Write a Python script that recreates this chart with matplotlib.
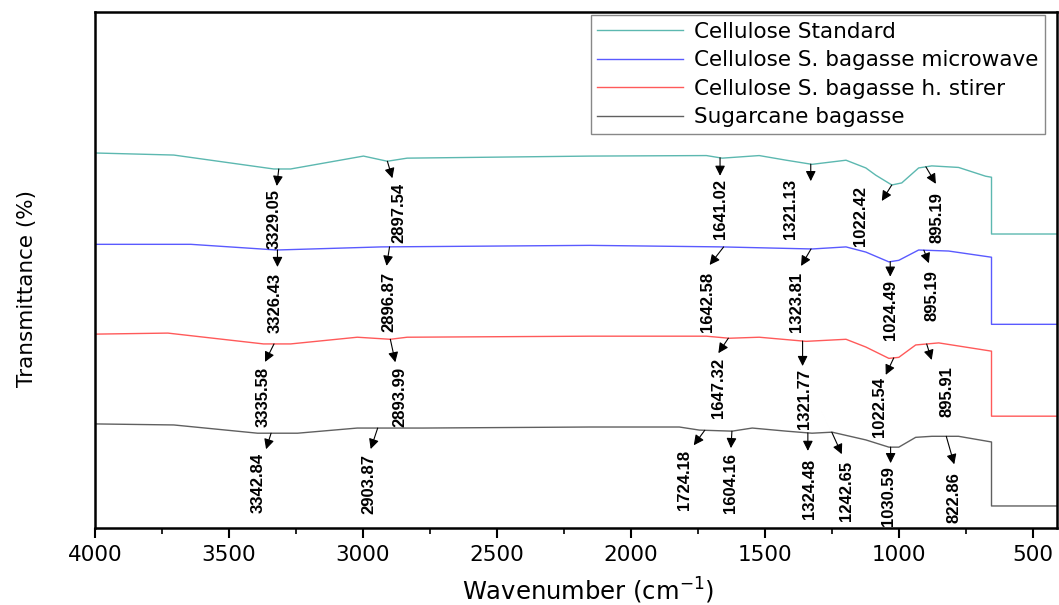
import numpy as np
import matplotlib.pyplot as plt

# FTIR spectra (wavenumber in cm-1, transmittance offset per sample)
wn_std = [4000, 3706, 3333, 3270, 2998, 2909, 2835, 2154, 1718, 1659, 1521, 1420, 1324,
          1197, 1123, 1086, 1026, 989, 926, 877, 777, 676, 654, 654, 400]
tr_std = [72.7, 72.3, 69.6, 69.6, 72.1, 71.1, 71.7, 72.1, 72.2, 71.7, 72.2, 71.3, 70.5,
          71.3, 69.8, 68.4, 66.5, 66.9, 69.8, 70.2, 69.9, 68.2, 68.0, 57.0, 57.0]

wn_mw = [4000, 3642, 3322, 2932, 2154, 1659, 1324, 1197, 1123, 1037, 1000, 926, 814,
         654, 654, 400]
tr_mw = [55.0, 55.0, 53.9, 54.5, 54.8, 54.5, 54.1, 54.5, 53.5, 51.6, 51.9, 53.9, 53.7,
         52.5, 39.5, 39.5]

wn_hs = [4000, 3728, 3371, 3270, 3021, 2898, 2835, 2154, 1718, 1633, 1521, 1346, 1197,
         1123, 1037, 1000, 937, 851, 654, 654, 400]
tr_hs = [37.6, 37.8, 35.7, 35.7, 37.0, 36.6, 37.0, 37.2, 37.2, 36.8, 37.0, 36.2, 36.6,
         35.1, 32.9, 33.1, 35.5, 35.9, 34.3, 21.7, 21.7]

wn_sb = [4000, 3706, 3393, 3244, 3021, 2775, 2154, 1819, 1744, 1622, 1547, 1420, 1324,
         1249, 1123, 1037, 1000, 937, 877, 777, 654, 654, 400]
tr_sb = [20.2, 20.0, 18.4, 18.4, 19.4, 19.4, 19.6, 19.6, 19.0, 18.8, 19.4, 18.8, 18.4,
         18.6, 17.1, 15.7, 15.7, 17.6, 17.8, 17.8, 16.7, 4.3, 4.3]

labels = ["Cellulose Standard", "Cellulose S. bagasse microwave",
          "Cellulose S. bagasse h. stirer", "Sugarcane bagasse"]
colors = ["#5cb8b0", "#5a5aff", "#ff5a5a", "#606060"]

# peak labels per series
peaks = [
    [3329.05, 2897.54, 1641.02, 1321.13, 1022.42, 895.19],
    [3326.43, 2896.87, 1642.58, 1323.81, 1024.49, 895.19],
    [3335.58, 2893.99, 1647.32, 1321.77, 1022.54, 895.91],
    [3342.84, 2903.87, 1724.18, 1604.16, 1324.48, 1242.65, 1030.59, 822.86],
]
# pixel offsets: tail dx, head dx, head dy, text dx, text dy (dy downwards)
offsets = [
    [(4, 2, 17, -1, 20), (-3, 2, 17, 8, 22), (-7, -7, 18, -7, 21),
     (-2, -2, 17, -22, 15), (-1, -11, 16, -32, 1), (-1, 9, 17, 10, 25)],
    [(2, 2, 17, 0, 23), (-1, -4, 19, -2, 25), (-3, -17, 18, -19, 25),
     (-1, -11, 17, -16, 23), (-2, -2, 15, -2, 18), (-3, 2, 13, 5, 20)],
    [(1, -8, 18, -10, 23), (-1, 4, 23, 9, 28), (3, -7, 15, -7, 20),
     (-10, -10, 25, -8, 28), (1, -7, 17, -13, 19), (0, 5, 16, 20, 22)],
    [(0, -5, 16, -13, 20), (-11, -18, 21, -20, 26), (0, -11, 15, -20, 20),
     (-5, -6, 17, -6, 22), (-4, -4, 18, -2, 26), (-2, 8, 22, 13, 29),
     (0, 0, 16, -2, 19), (0, 8, 28, 8, 36)],
]

series = [(wn_std, tr_std), (wn_mw, tr_mw), (wn_hs, tr_hs), (wn_sb, tr_sb)]

fig = plt.figure(figsize=(10.59, 6.05), dpi=100)
ax = fig.add_axes([0.0897, 0.127, 0.9083, 0.853])

for (wn, tr), lab, col in zip(series, labels, colors):
    ax.plot(wn, tr, color=col, lw=1.0, label=lab)

ax.set_xlim(4000, 410)
ax.set_ylim(0, 100)

peak_font = ['Liberation Sans', 'DejaVu Sans']


def shift(x, y, dx, dy):
    px, py = ax.transData.transform((x, y))
    return ax.transData.inverted().transform((px + dx, py - dy))


for (wn, tr), plist, olist in zip(series, peaks, offsets):
    wn_r = np.array(wn[::-1], dtype=float)
    tr_r = np.array(tr[::-1], dtype=float)
    for p, (tdx, hdx, hdy, xdx, xdy) in zip(plist, olist):
        tail = shift(p, 0, tdx, 0)
        cy = np.interp(tail[0], wn_r, tr_r)
        tail = (tail[0], cy)
        head = shift(p, cy, hdx, hdy)
        txt = shift(p, cy, xdx, xdy)
        ax.annotate('', xy=head, xytext=tail,
                    arrowprops=dict(arrowstyle='-|>,head_length=0.6,head_width=0.3',
                                    color='black', lw=0.8, shrinkA=0, shrinkB=0))
        ax.text(txt[0], txt[1], f"{p:.2f}", rotation=90, ha='center', va='top',
                fontsize=12, fontweight='bold', family=peak_font)

for s in ax.spines.values():
    s.set_linewidth(1.8)

ax.set_yticks([])
ax.set_xticks([4000, 3500, 3000, 2500, 2000, 1500, 1000, 500])
ax.set_xticks(np.arange(3750, 400, -500), minor=True)
ax.tick_params(axis='x', which='major', direction='out', length=7, width=1.5,
               labelsize=15.5, pad=5)
ax.tick_params(axis='x', which='minor', direction='out', length=4.5, width=1.2)

ax.set_xlabel('Wavenumber (cm$^{-1}$)', fontsize=17.5)
ax.xaxis.set_label_coords(0.5125, -0.092)
ax.set_ylabel('Transmittance (%)', fontsize=15.5)
ax.yaxis.set_label_coords(-0.06, 0.465)

leg = ax.legend(loc='upper right', bbox_to_anchor=(0.9875, 0.994), borderaxespad=0,
                fontsize=15.5, frameon=True, fancybox=False, edgecolor='#888888',
                framealpha=1, handlelength=4.0, handletextpad=0.5, labelspacing=0.4,
                borderpad=0.3)
leg.get_frame().set_linewidth(1.0)

fig.savefig('out.png', dpi=100)
